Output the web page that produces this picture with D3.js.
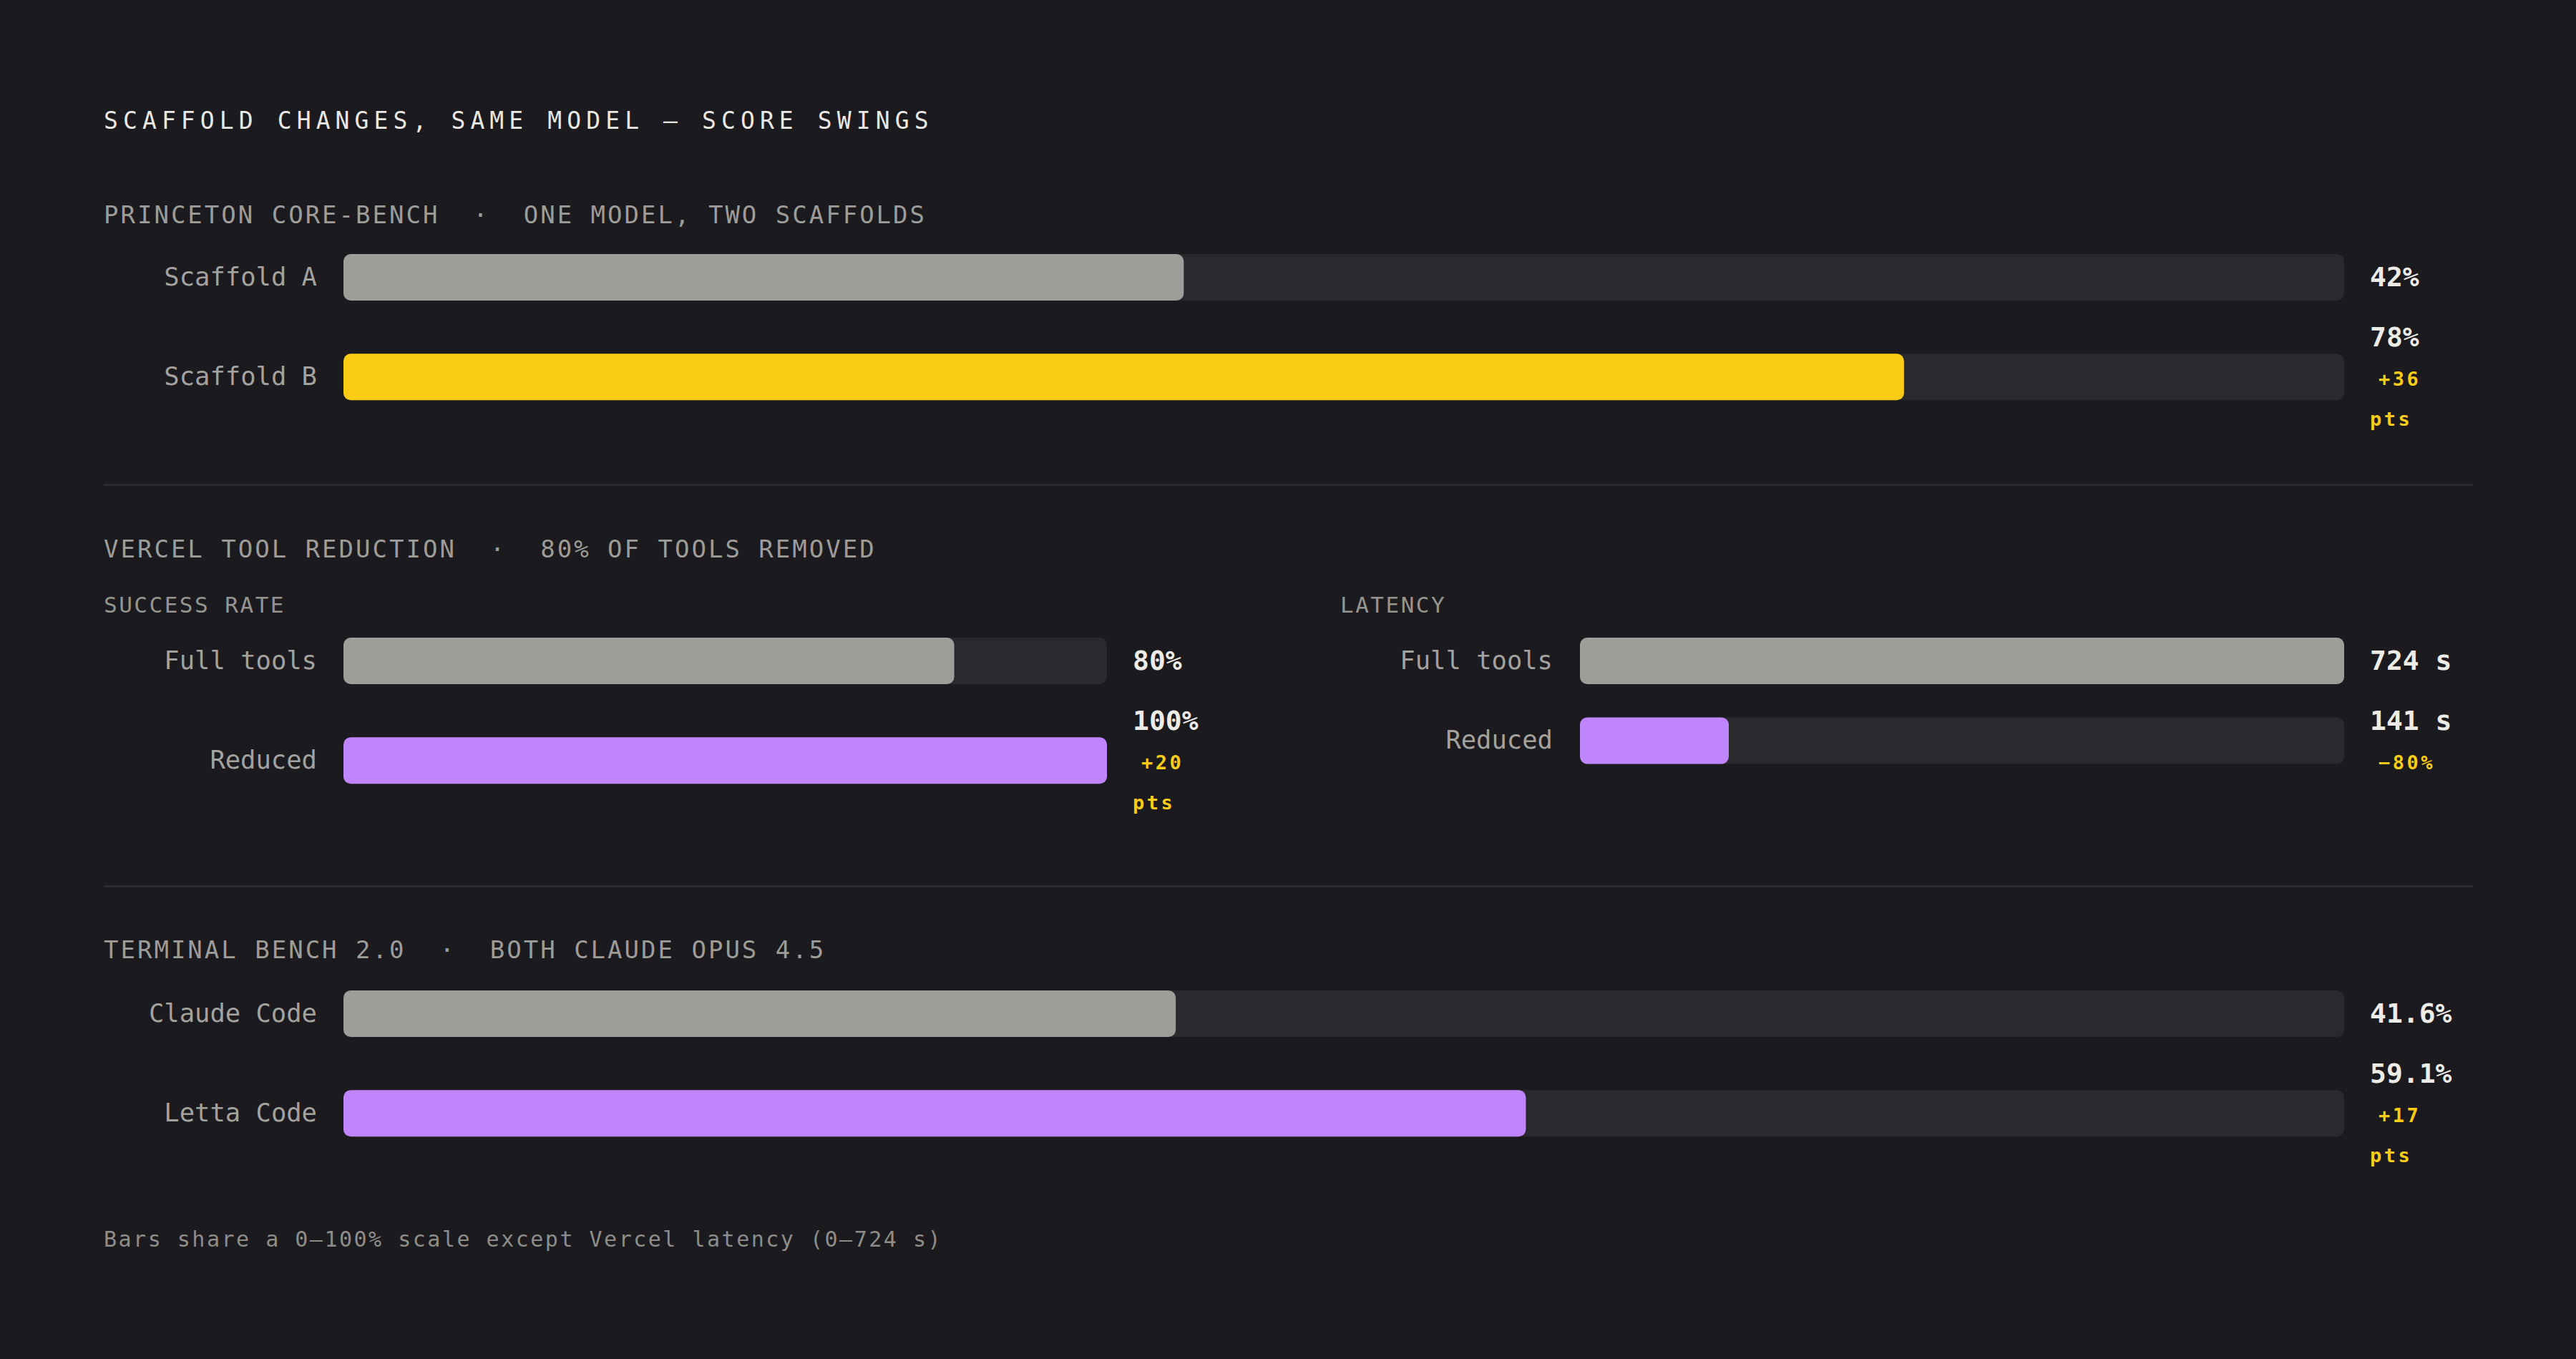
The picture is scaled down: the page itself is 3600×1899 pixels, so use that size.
<!DOCTYPE html>
<html>
<head>
<meta charset="utf-8">
<script src="https://cdn.jsdelivr.net/npm/d3@7/dist/d3.min.js"></script>
<style>
  html, body { margin: 0; padding: 0; background: #1b1a1f; }
  svg { display: block; }
  text { font-family: "DejaVu Sans Mono", "Liberation Mono", monospace; white-space: pre; }
</style>
</head>
<body>
<svg id="chart" width="3600" height="1899"></svg>
<script>
// ---------------- DATA ----------------
const chartTitle = "SCAFFOLD CHANGES, SAME MODEL — SCORE SWINGS";
const sectionTitles = ["PRINCETON CORE-BENCH", "VERCEL TOOL REDUCTION", "TERMINAL BENCH 2.0"];
const sectionSubtitles = ["ONE MODEL, TWO SCAFFOLDS", "80% OF TOOLS REMOVED", "BOTH CLAUDE OPUS 4.5"];
const vercelPanelTitles = ["SUCCESS RATE", "LATENCY"];

const coreLabels = ["Scaffold A", "Scaffold B"];
const coreScores = [42, 78];
const coreDisplay = ["42%", "78%"];
const coreDeltas = [null, "+36 pts"];

const vercelLabels = ["Full tools", "Reduced"];
const vercelSuccess = [80, 100];
const vercelSuccessDisplay = ["80%", "100%"];
const vercelSuccessDeltas = [null, "+20 pts"];
const vercelLatency = [724, 141];
const vercelLatencyDisplay = ["724 s", "141 s"];
const vercelLatencyDeltas = [null, "−80%"];

const terminalLabels = ["Claude Code", "Letta Code"];
const terminalScores = [41.6, 59.1];
const terminalDisplay = ["41.6%", "59.1%"];
const terminalDeltas = [null, "+17 pts"];

const pctDomain = [0, 100];
const latencyDomain = [0, 724];
const footnote = "Bars share a 0–100% scale except Vercel latency (0–724 s)";

// ---------------- STYLE ----------------
const C = {
  bg: "#1b1a1f", track: "#29292e", base: "#9e9d9a", yellow: "#facc15", purple: "#c084fc",
  title: "#e9e7e2", header: "#9d9c98", sub: "#95948f", label: "#a3a29e", value: "#ecebe6",
  delta: "#facc15", rule: "#2a2a30", foot: "#8e8d89"
};
const LEFT = 145, RIGHT = 3456;
const BAR_H = 65, ROW_GAP = 23.5, LINE_H = 55.5;
const DELTA_FS = 27, DELTA_LS = 3.5, DELTA_INDENT = 12, VALUE_COL = 144;

const svg = d3.select("#chart");
svg.append("rect").attr("width", 3600).attr("height", 1899).attr("fill", C.bg);

// Title
svg.append("text").attr("x", LEFT).attr("y", 180)
  .attr("font-size", 33).attr("letter-spacing", 7.1).attr("fill", C.title)
  .text(chartTitle);

function sectionHeader(i, y) {
  svg.append("text").attr("x", LEFT).attr("y", y)
    .attr("font-size", 34).attr("letter-spacing", 3).attr("fill", C.header)
    .text(sectionTitles[i] + "  ·  " + sectionSubtitles[i]);
}
function panelTitle(t, x, y) {
  svg.append("text").attr("x", x).attr("y", y)
    .attr("font-size", 31).attr("letter-spacing", 2.5).attr("fill", C.sub).text(t);
}
function rule(y) {
  svg.append("rect").attr("x", LEFT).attr("y", y).attr("width", RIGHT - LEFT).attr("height", 3).attr("fill", C.rule);
}

// wrap delta text into lines within value column
function wrapDelta(str) {
  if (!str) return [];
  const cw = DELTA_FS * 0.602 + DELTA_LS;
  const words = str.split(" ");
  const lines = [];
  let cur = "", indent = DELTA_INDENT;
  words.forEach(w => {
    const test = cur ? cur + " " + w : w;
    if (cur && indent + test.length * cw > VALUE_COL) {
      lines.push({ t: cur, indent });
      cur = w; indent = 0;
    } else cur = test;
  });
  if (cur) lines.push({ t: cur, indent });
  return lines;
}

function drawPanel(opt) {
  const { labels, values, display, deltas, domain, x0, x1, labelX, rowTop, fills } = opt;
  const x = d3.scaleLinear().domain(domain).range([x0, x1]);
  const valueX = x1 + 36;
  const g = svg.append("g");
  let top = rowTop;
  labels.forEach((lab, i) => {
    const dl = wrapDelta(deltas[i]);
    const nLines = 1 + dl.length;
    const rowH = Math.max(BAR_H, nLines * LINE_H);
    const barY = top + (rowH - BAR_H) / 2;
    const c = barY + BAR_H / 2;
    g.append("rect").attr("x", x(domain[0])).attr("y", barY)
      .attr("width", x(domain[1]) - x(domain[0])).attr("height", BAR_H)
      .attr("rx", 10).attr("fill", C.track);
    g.append("rect").attr("x", x(domain[0])).attr("y", barY)
      .attr("width", x(values[i]) - x(domain[0])).attr("height", BAR_H)
      .attr("rx", 10).attr("fill", fills[i]);
    g.append("text").attr("x", labelX).attr("y", c + 11)
      .attr("text-anchor", "end").attr("font-size", 35.5).attr("fill", C.label).text(lab);
    const first = c + 12.5 - (nLines - 1) * LINE_H / 2;
    g.append("text").attr("x", valueX).attr("y", first)
      .attr("font-size", 38).attr("font-weight", "bold").attr("fill", C.value).text(display[i]);
    dl.forEach((ln, j) => {
      g.append("text").attr("x", valueX + ln.indent).attr("y", first + (j + 1) * LINE_H)
        .attr("font-size", DELTA_FS).attr("letter-spacing", DELTA_LS)
        .attr("font-weight", "bold").attr("fill", C.delta).text(ln.t);
    });
    top += rowH + ROW_GAP;
  });
}

// Section 1
sectionHeader(0, 312);
drawPanel({ labels: coreLabels, values: coreScores, display: coreDisplay, deltas: coreDeltas,
  domain: pctDomain, x0: 480, x1: 3276, labelX: 443, rowTop: 355, fills: [C.base, C.yellow] });
rule(676);

// Section 2
sectionHeader(1, 779);
panelTitle(vercelPanelTitles[0], LEFT, 856);
panelTitle(vercelPanelTitles[1], 1873, 856);
drawPanel({ labels: vercelLabels, values: vercelSuccess, display: vercelSuccessDisplay, deltas: vercelSuccessDeltas,
  domain: pctDomain, x0: 480, x1: 1547, labelX: 443, rowTop: 891, fills: [C.base, C.purple] });
drawPanel({ labels: vercelLabels, values: vercelLatency, display: vercelLatencyDisplay, deltas: vercelLatencyDeltas,
  domain: latencyDomain, x0: 2208, x1: 3276, labelX: 2170, rowTop: 891, fills: [C.base, C.purple] });
rule(1237);

// Section 3
sectionHeader(2, 1339);
drawPanel({ labels: terminalLabels, values: terminalScores, display: terminalDisplay, deltas: terminalDeltas,
  domain: pctDomain, x0: 480, x1: 3276, labelX: 443, rowTop: 1384, fills: [C.base, C.purple] });

// Footnote
svg.append("text").attr("x", LEFT).attr("y", 1742)
  .attr("font-size", 30).attr("letter-spacing", 2.5).attr("fill", C.foot).text(footnote);
</script>
</body>
</html>
